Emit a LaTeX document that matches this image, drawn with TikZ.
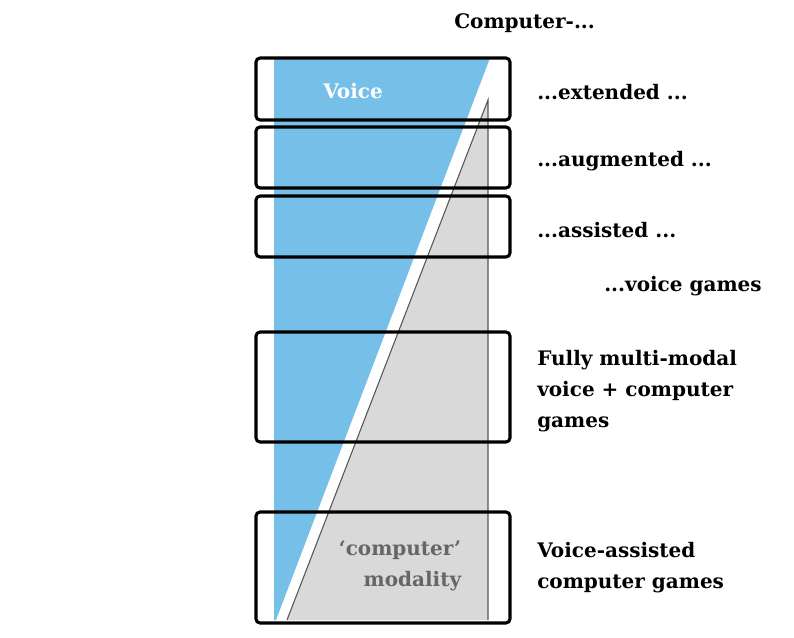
\documentclass[tikz,border=0pt]{standalone}
\usepackage{fontspec}
\setmainfont{DejaVu Serif}
\usepackage{tikz}

\definecolor{voiceblue}{HTML}{75BFE8}
\definecolor{compgrey}{HTML}{D9D9D9}
\definecolor{edgegrey}{HTML}{555555}
\definecolor{labelgrey}{HTML}{666666}

\tikzset{
  band/.style={rounded corners=3pt, line width=2.3pt},
  lbl/.style={anchor=west, align=left, inner sep=0pt, font=\bfseries\fontsize{15}{23.2}\selectfont},
}

\begin{document}
\begin{tikzpicture}[x=0.75pt, y=-0.75pt]
\useasboundingbox (0,0) rectangle (794,638);

\fill[voiceblue] (274,58) -- (490,58) -- (276,620) -- (274,620) -- cycle;
\fill[compgrey] (488,100) -- (488,620) -- (287,620) -- cycle;
\draw[edgegrey, line width=0.8pt] (287,620) -- (488,100) -- (488,620);

\draw[band] (256,58) rectangle (510,120);
\draw[band] (256,127) rectangle (510,188);
\draw[band] (256,196) rectangle (510,257);
\draw[band] (256,332) rectangle (510,442);
\draw[band] (256,512) rectangle (510,623);

\node[lbl, text=white] (voice) at (323,91) {Voice};
\node[lbl, text=labelgrey, align=right, anchor=center] (modality) at (400,566) {‘computer’\\modality};

\node[lbl] (comp) at (454,23) {Computer-...};
\node[lbl] (ext) at (537,92) {...extended ...};
\node[lbl] (aug) at (537,161) {...augmented ...};
\node[lbl] (ass) at (537,230) {...assisted ...};
\node[lbl] (vg) at (604,286) {...voice games};
\node[lbl] (multi) at (537,391) {Fully multi-modal\\voice + computer\\games};
\node[lbl] (vacg) at (537,568) {Voice-assisted\\computer games};

\end{tikzpicture}
\end{document}
